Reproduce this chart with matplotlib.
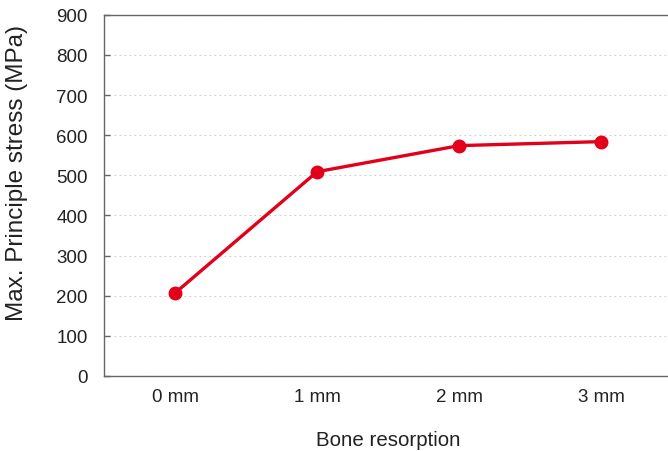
import matplotlib
matplotlib.use('Agg')
import matplotlib.pyplot as plt

resorption = ['0 mm', '1 mm', '2 mm', '3 mm']
stress = [207, 509, 574, 584]

plt.rcParams['font.family'] = ['Liberation Sans', 'DejaVu Sans']

fig = plt.figure(figsize=(6.68, 4.52), dpi=100)
ax = fig.add_axes([0.156, 0.166, 0.85, 0.799])

x = list(range(len(resorption)))
ax.plot(x, stress, color='#e2001a', linewidth=2.4, marker='o', markersize=9, zorder=3)

ax.set_xlim(-0.5, 3.5)
ax.set_ylim(0, 900)
ax.set_yticks(range(0, 901, 100))
ax.set_xticks(x)
ax.set_xticklabels(resorption)
ax.yaxis.grid(True, linestyle=(0, (1.5, 3)), color='#cccccc', linewidth=0.8)
ax.set_axisbelow(True)

for side in ['left', 'bottom', 'top', 'right']:
    ax.spines[side].set_color('#666666')
    ax.spines[side].set_linewidth(1.0)

ax.tick_params(axis='x', labelsize=13.5, colors='#222222', length=0, pad=9)
ax.tick_params(axis='y', labelsize=13.5, labelcolor='#222222', direction='in',
               length=4, width=1, color='#666666', pad=12)
ax.set_xlabel('Bone resorption', fontsize=14.8, color='#222222', labelpad=18)
ax.set_ylabel('Max. Principle stress (MPa)', fontsize=17.5, color='#222222')
ax.yaxis.set_label_coords(-0.134, 0.565)

plt.savefig('out.png', dpi=100)
